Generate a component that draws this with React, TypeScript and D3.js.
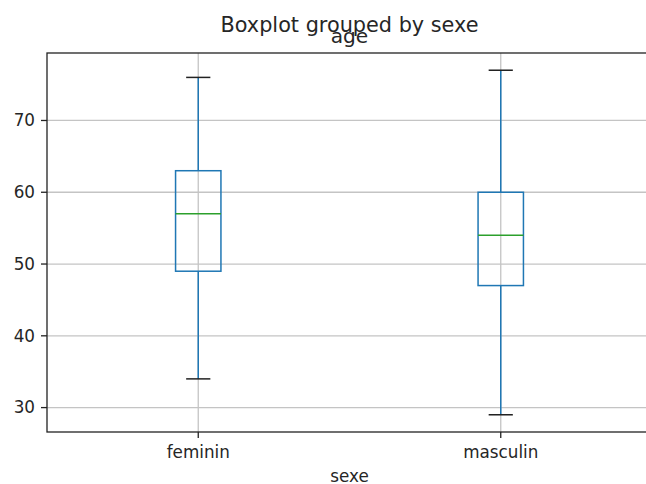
import React from "react";
import * as d3 from "d3";

const categories = ["feminin", "masculin"];
const whiskerLow = [34, 29];
const q1 = [49, 47];
const median = [57, 54];
const q3 = [63, 60];
const whiskerHigh = [76, 77];
const yTicks = [30, 40, 50, 60, 70];

const W = 646;
const H = 484;
const left = 47;
const right = 652;
const top = 53;
const bottom = 432;

export default function App() {
  const x = d3.scaleLinear().domain([0.5, 2.5]).range([left, right]);
  const y = d3.scaleLinear().domain([26.6, 79.4]).range([bottom, top]);
  const boxW = x(1.075) - x(1);
  const capW = x(1.04) - x(1);
  const font = "DejaVu Sans, sans-serif";
  const blue = "#1f77b4";
  const green = "#2ca02c";
  const grid = "#c4c4c4";
  const txt = "#262626";

  return (
    <svg
      width={W}
      height={H}
      style={{ position: "absolute", left: 0, top: 0, background: "#fff" }}
      fontFamily={font}
    >
      <rect x={0} y={0} width={W} height={H} fill="#fff" />
      {/* grid */}
      {yTicks.map((t) => (
        <line key={"gy" + t} x1={left} x2={right} y1={y(t)} y2={y(t)} stroke={grid} strokeWidth={1.3} />
      ))}
      {categories.map((c, i) => (
        <line key={"gx" + c} x1={x(i + 1)} x2={x(i + 1)} y1={top} y2={bottom} stroke={grid} strokeWidth={1.3} />
      ))}
      {/* boxes */}
      {categories.map((c, i) => {
        const cx = x(i + 1);
        return (
          <g key={"b" + c}>
            <line x1={cx} x2={cx} y1={y(q3[i])} y2={y(whiskerHigh[i])} stroke={blue} strokeWidth={1.5} />
            <line x1={cx} x2={cx} y1={y(q1[i])} y2={y(whiskerLow[i])} stroke={blue} strokeWidth={1.5} />
            <line x1={cx - capW} x2={cx + capW} y1={y(whiskerHigh[i])} y2={y(whiskerHigh[i])} stroke="#222" strokeWidth={1.5} />
            <line x1={cx - capW} x2={cx + capW} y1={y(whiskerLow[i])} y2={y(whiskerLow[i])} stroke="#222" strokeWidth={1.5} />
            <rect
              x={cx - boxW}
              y={y(q3[i])}
              width={boxW * 2}
              height={y(q1[i]) - y(q3[i])}
              fill="none"
              stroke={blue}
              strokeWidth={1.5}
            />
            <line x1={cx - boxW} x2={cx + boxW} y1={y(median[i])} y2={y(median[i])} stroke={green} strokeWidth={1.5} />
          </g>
        );
      })}
      {/* spines */}
      <rect x={left} y={top} width={right - left} height={bottom - top} fill="none" stroke="#222" strokeWidth={1.3} />
      {/* y ticks */}
      {yTicks.map((t) => (
        <g key={"ty" + t}>
          <line x1={left - 6} x2={left} y1={y(t)} y2={y(t)} stroke="#222" strokeWidth={1.3} />
          <text x={left - 12} y={y(t)} dy="0.35em" textAnchor="end" fontSize={16.8} fill={txt}>
            {t}
          </text>
        </g>
      ))}
      {/* x ticks */}
      {categories.map((c, i) => (
        <g key={"tx" + c}>
          <line x1={x(i + 1)} x2={x(i + 1)} y1={bottom} y2={bottom + 6} stroke="#222" strokeWidth={1.3} />
          <text x={x(i + 1)} y={457.5} textAnchor="middle" fontSize={16.8} fill={txt}>
            {c}
          </text>
        </g>
      ))}
      <text x={(left + right) / 2} y={481.5} textAnchor="middle" fontSize={16.8} fill={txt}>
        sexe
      </text>
      <text x={(left + right) / 2} y={42.5} textAnchor="middle" fontSize={20.2} fill={txt}>
        age
      </text>
      <text x={(left + right) / 2} y={31.5} textAnchor="middle" fontSize={20.8} fill={txt}>
        Boxplot grouped by sexe
      </text>
    </svg>
  );
}
